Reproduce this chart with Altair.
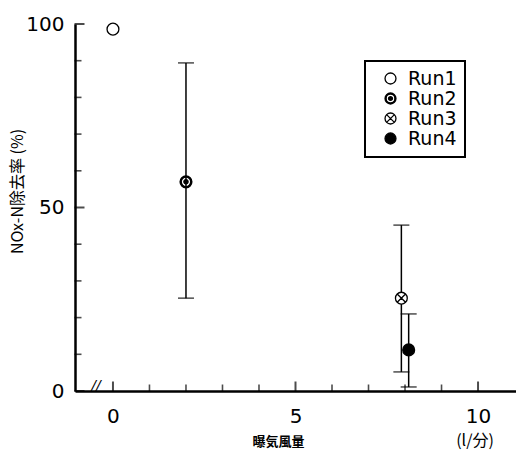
import altair as alt
import pandas as pd

# ---- data ----
runs = ["Run1", "Run2", "Run3", "Run4"]
air_flow = [0.0, 2.0, 7.9, 8.1]
removal = [98.6, 57.0, 25.3, 11.2]

err_x = [2.0, 7.9, 8.1]
err_low = [25.3, 5.2, 1.1]
err_high = [89.4, 45.2, 21.0]

x_label_values = [0, 5, 10]
x_minor_ticks = [1, 2, 3, 4, 6, 7, 8, 9]
y_label_values = [0, 50, 100]
y_minor_ticks = [10, 20, 30, 40, 60, 70, 80, 90]

# ---- marker shapes ----
RING_DOT = ("M1,0A1,1,0,1,1,-1,0A1,1,0,1,1,1,0Z "
            "M0.8,0A0.8,0.8,0,1,0,-0.8,0A0.8,0.8,0,1,0,0.8,0Z "
            "M0.36,0A0.36,0.36,0,1,1,-0.36,0A0.36,0.36,0,1,1,0.36,0Z")
CIRCLE_X = ("M1,0A1,1,0,1,1,-1,0A1,1,0,1,1,1,0Z "
            "M-0.62,-0.62L0.62,0.62 M-0.62,0.62L0.62,-0.62")
shape_range = ["circle", RING_DOT, CIRCLE_X, "circle"]
fill_range = ["white", "black", "white", "black"]
stroke_range = ["black", "black", "black", "black"]

W, H = 441, 367

df = pd.DataFrame({"x": air_flow, "y": removal, "run": runs})
err_df = pd.DataFrame({"x": err_x, "lo": err_low, "hi": err_high})
cap_df = pd.DataFrame({"x": err_x + err_x, "y": err_low + err_high})

XMIN = -1.04
xs = alt.Scale(domain=[XMIN, 11.04], nice=False, zero=False)
ys = alt.Scale(domain=[0, 100], nice=False, zero=False)

xaxis = alt.Axis(values=x_label_values, ticks=False, grid=False,
                 domainColor="black", domainWidth=2.5,
                 labelFont="DejaVu Sans", labelFontSize=20, labelColor="black",
                 labelPadding=15, labelFlush=False,
                 title="曝気風量", titleFont="Noto Sans CJK JP", titleFontSize=13,
                 titleFontWeight="bold", titleColor="black",
                 titleX=203, titleY=50, titleAlign="center", titleBaseline="middle")
yaxis = alt.Axis(values=y_label_values, ticks=False, grid=False,
                 domainColor="black", domainWidth=2.5,
                 labelFont="DejaVu Sans", labelFontSize=20, labelColor="black",
                 labelPadding=11, labelFlush=False,
                 title="NOx-N除去率 (%)", titleFont="Noto Sans CJK JP", titleFontSize=16,
                 titleFontWeight="normal", titleColor="black", titleAngle=270,
                 titleX=-58, titleY=167, titleAlign="center", titleBaseline="middle")

X = lambda f: alt.X(f, scale=xs, axis=xaxis)
Y = lambda f: alt.Y(f, scale=ys, axis=yaxis)

leg = alt.Legend(title=None, orient="none", legendX=290, legendY=37, padding=8,
                 strokeColor="black", labelFont="DejaVu Sans", labelFontSize=19,
                 labelColor="black", symbolSize=120, symbolStrokeWidth=1.3,
                 symbolOffset=8, rowPadding=-2, labelOffset=8)

x_minor = alt.Chart(pd.DataFrame({"x": x_minor_ticks})).mark_tick(
    orient="vertical", size=7, thickness=1.6, color="black", yOffset=-3).encode(
    x=X("x:Q"), y=alt.Y(datum=0, scale=ys, axis=yaxis))
x_major = alt.Chart(pd.DataFrame({"x": x_label_values})).mark_tick(
    orient="vertical", size=10, thickness=2, color="black", yOffset=-4.5).encode(
    x=X("x:Q"), y=alt.Y(datum=0, scale=ys, axis=yaxis))
y_minor = alt.Chart(pd.DataFrame({"y": y_minor_ticks})).mark_tick(
    orient="horizontal", size=7, thickness=1.6, color="black", xOffset=3).encode(
    y=Y("y:Q"), x=alt.X(datum=XMIN, scale=xs, axis=xaxis))
y_major = alt.Chart(pd.DataFrame({"y": y_label_values})).mark_tick(
    orient="horizontal", size=10, thickness=2, color="black", xOffset=4.5).encode(
    y=Y("y:Q"), x=alt.X(datum=XMIN, scale=xs, axis=xaxis))

bars = alt.Chart(err_df).mark_rule(color="black", strokeWidth=1.5).encode(
    x=X("x:Q"), y=Y("lo:Q"), y2="hi:Q")
caps = alt.Chart(cap_df).mark_tick(orient="horizontal", size=16, thickness=1.5,
                                   color="black").encode(x=X("x:Q"), y=Y("y:Q"))

points = alt.Chart(df).mark_point(filled=True, size=140, strokeWidth=1.3, opacity=1).encode(
    x=X("x:Q"), y=Y("y:Q"),
    fill=alt.Fill("run:N", scale=alt.Scale(domain=runs, range=fill_range), legend=leg),
    stroke=alt.Stroke("run:N", scale=alt.Scale(domain=runs, range=stroke_range), legend=leg),
    shape=alt.Shape("run:N", scale=alt.Scale(domain=runs, range=shape_range), legend=leg),
)

unit = alt.Chart(pd.DataFrame({"t": ["(l/分)"]})).mark_text(
    font="Noto Sans CJK JP", fontSize=16, color="black", align="center",
    baseline="middle").encode(text="t:N", x=alt.value(400), y=alt.value(H + 50))
brk = alt.Chart(pd.DataFrame({"t": ["//"]})).mark_text(
    font="DejaVu Sans", fontSize=14, color="black", fontStyle="italic",
    align="center", baseline="middle").encode(text="t:N", x=alt.value(21), y=alt.value(H - 5))

chart = alt.layer(x_minor, x_major, y_minor, y_major, bars, caps, points, unit, brk).properties(
    width=W, height=H,
    padding={"left": 75, "top": 24, "right": 0, "bottom": 59},
    autosize=alt.AutoSizeParams(type="none"),
    background="white",
).configure_view(strokeWidth=0).configure_legend(strokeWidth=2)

chart.save("out.html", embed_options={"renderer": "svg", "actions": False})
